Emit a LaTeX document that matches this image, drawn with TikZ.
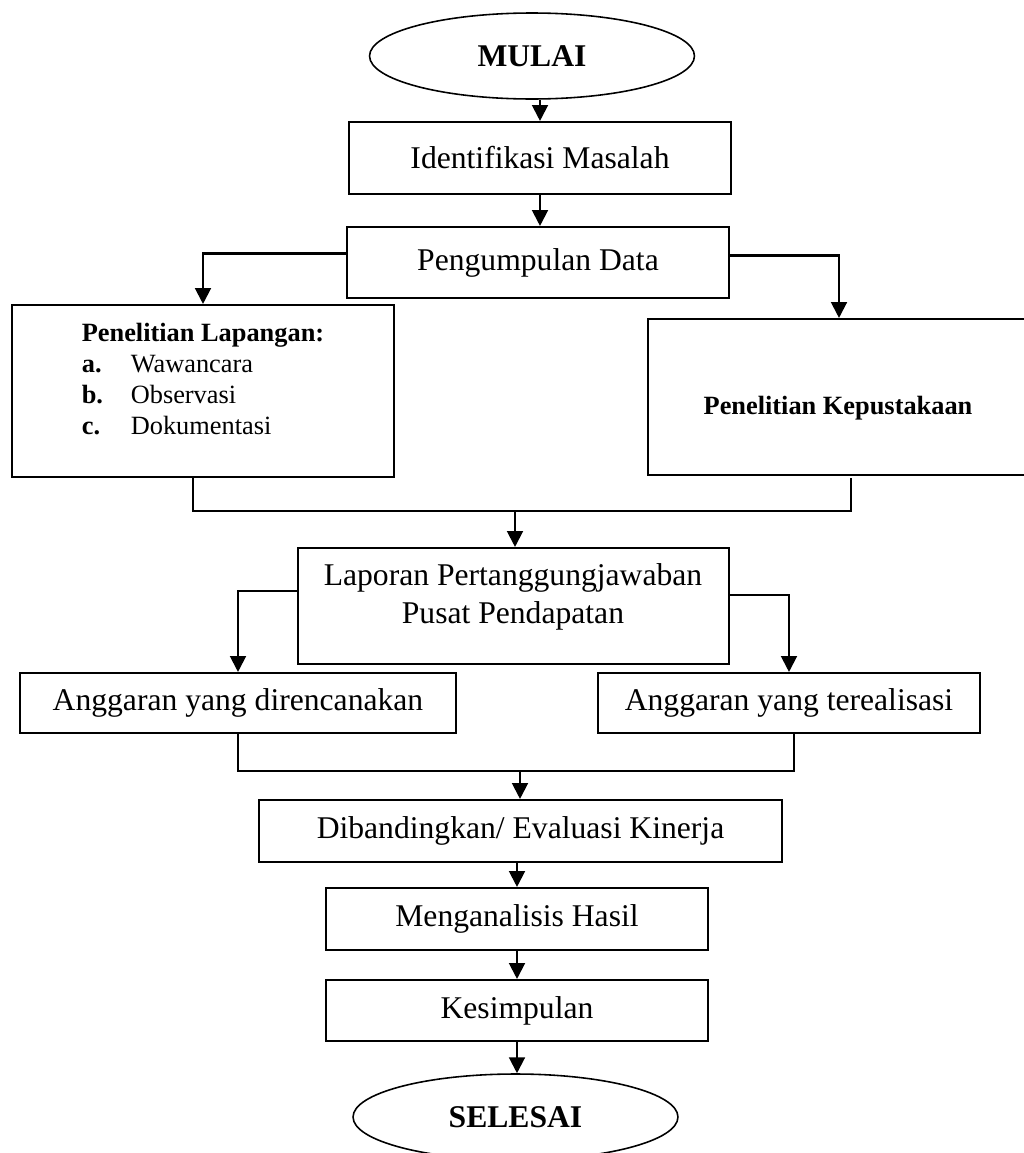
\documentclass[tikz,border=0pt]{standalone}
\usepackage{fontspec}
\setmainfont{Liberation Serif}
\usetikzlibrary{calc,arrows.meta,shapes.geometric}

\begin{document}
\begin{tikzpicture}[x=0.02cm,y=-0.02cm,line width=1.2pt,
    kotak/.style={draw,rectangle,inner sep=0pt,minimum width=7.64cm},
    oval/.style={draw,ellipse,inner sep=0pt,minimum width=6.5cm,minimum height=1.72cm,font=\fontsize{18}{22}\selectfont\bfseries},
    teks/.style={font=\fontsize{18}{22}\selectfont,align=center},
    tekskecil/.style={font=\fontsize{15}{17.5}\selectfont},
    panah/.style={-{Triangle[length=9pt,width=9pt]}}]
    \useasboundingbox (0,0) rectangle (1024,1153);
    \clip (0,0) rectangle (1024,1153);

    \node[oval,line width=0.9pt] (mulai) at (532,56) {MULAI};
    \node[kotak,teks,minimum height=1.44cm] (ident) at (540,158) {Identifikasi Masalah};
    \node[kotak,teks,minimum height=1.42cm] (kumpul) at (538,262.5) {Pengumpulan Data};

    \node[kotak,minimum height=3.44cm] (lapangan) at (203,391) {};
    \node[tekskecil,align=left] (lapanganteks) at (203,379) {\textbf{Penelitian Lapangan:}\\
        \makebox[0.98cm][l]{\textbf{a.}}Wawancara\\
        \makebox[0.98cm][l]{\textbf{b.}}Observasi\\
        \makebox[0.98cm][l]{\textbf{c.}}Dokumentasi};
    \node[kotak,minimum height=3.12cm] (pustaka) at (839,397) {};
    \node[tekskecil,font=\fontsize{15}{17.5}\selectfont\bfseries] (pustakateks) at (838,408) {Penelitian Kepustakaan};

    \node[kotak,minimum width=8.62cm,minimum height=2.32cm] (laporan) at (513.5,606) {};
    \node[teks] (laporanteks) at (513,597) {Laporan Pertanggungjawaban\\Pusat Pendapatan};

    \node[kotak,teks,minimum width=8.72cm,minimum height=1.2cm] (rencana) at (238,703) {Anggaran yang direncanakan};
    \node[kotak,teks,minimum height=1.2cm] (realisasi) at (789,703) {Anggaran yang terealisasi};

    \node[kotak,teks,minimum width=10.46cm,minimum height=1.24cm] (banding) at (520.5,831) {Dibandingkan/ Evaluasi Kinerja};
    \node[kotak,teks,minimum height=1.24cm] (analisis) at (517,919) {Menganalisis Hasil};
    \node[kotak,teks,minimum height=1.22cm] (simpul) at (517,1010.5) {Kesimpulan};
    \node[oval,line width=0.9pt] (selesai) at (515.5,1117) {SELESAI};

    \coordinate (gabung1) at (515,511);
    \coordinate (gabung2) at (520,771);

    \draw[panah] (mulai.south -| ident.north) -- (ident.north);
    \draw[panah] (ident.south) -- (ident.south |- kumpul.north);
    \draw[panah] ($(kumpul.west)+(0,-9)$) -| (lapangan.north);
    \draw[panah] ($(kumpul.east)+(0,-7)$) -| (pustaka.north);
    \draw ($(lapangan.south)+(-10,0)$) |- (gabung1) -| ($(pustaka.south)+(12,2)$);
    \draw[panah] (gabung1) -- (gabung1 |- laporan.north);
    \draw[panah] ($(laporan.west)+(0,-15)$) -| (rencana.north);
    \draw[panah] ($(laporan.east)+(0,-11)$) -| (realisasi.north);
    \draw (rencana.south) |- (gabung2) -| ($(realisasi.south)+(5,0)$);
    \draw[panah] (gabung2) -- (gabung2 |- banding.north);
    \draw[panah] (analisis.north |- banding.south) -- (analisis.north);
    \draw[panah] (analisis.south) -- (simpul.north);
    \draw[panah] (simpul.south) -- (simpul.south |- selesai.north);
\end{tikzpicture}
\end{document}
